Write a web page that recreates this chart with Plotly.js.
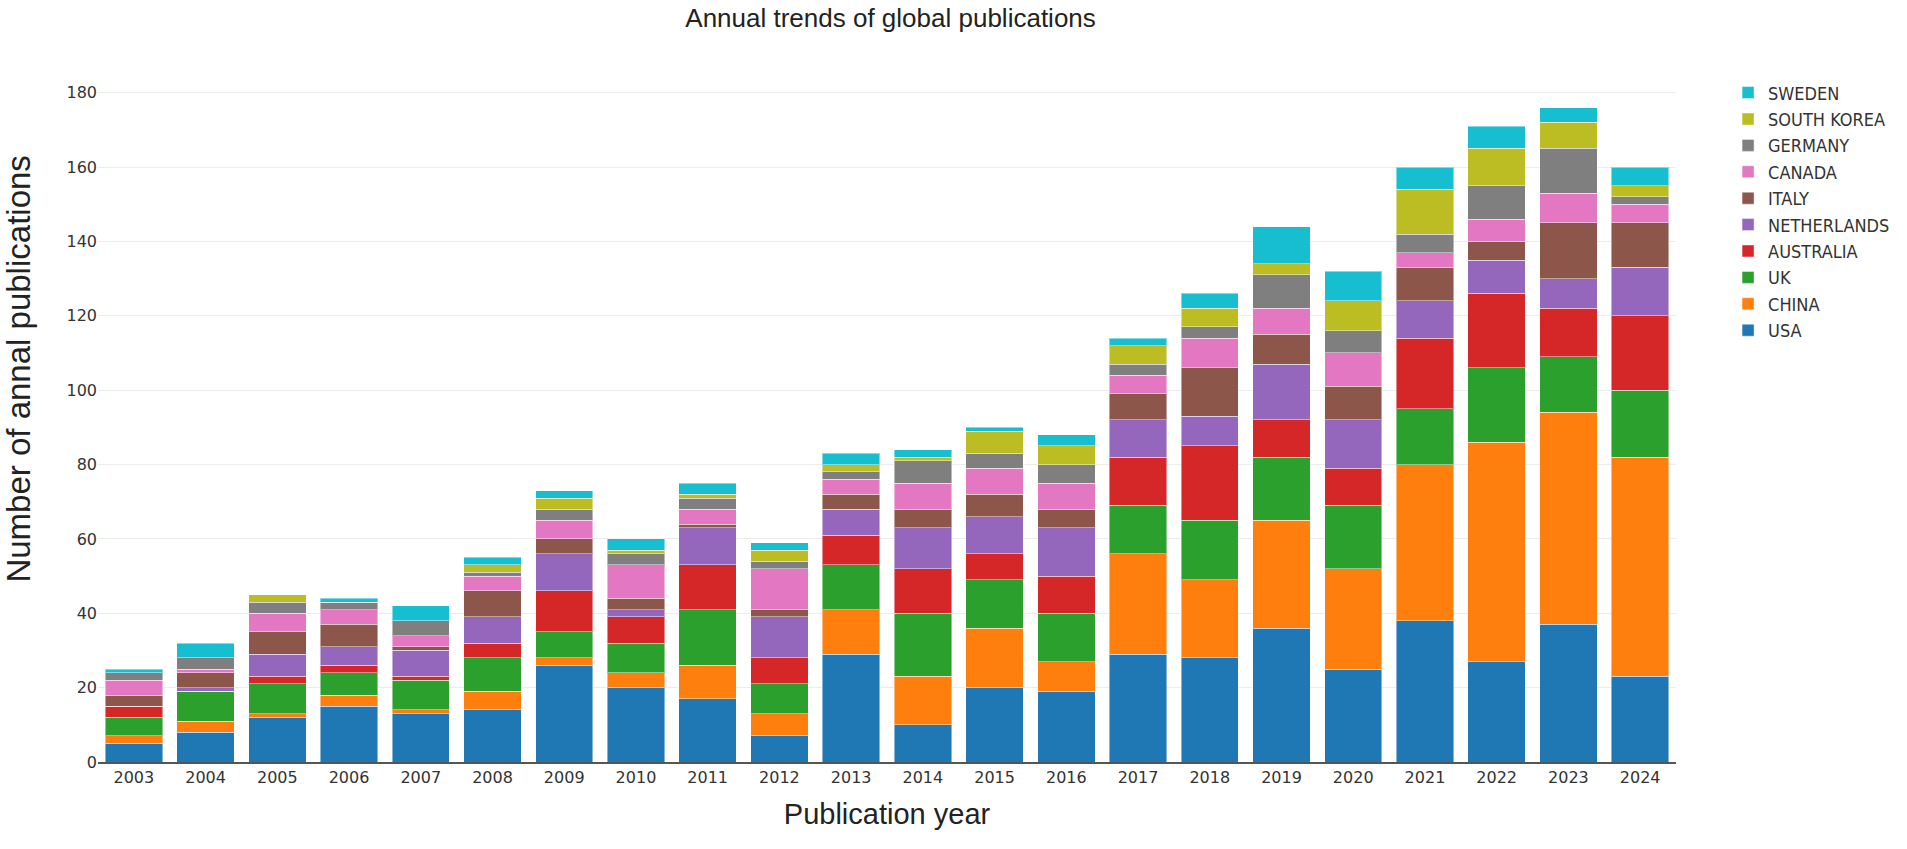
<!DOCTYPE html>
<html>
<head>
<meta charset="utf-8">
<script src="https://cdn.plot.ly/plotly-3.0.1.min.js"></script>
<style>
  html, body { margin: 0; padding: 0; background: #fff; }
  #chart { width: 1907px; height: 849px; }
</style>
</head>
<body>
<div id="chart"></div>
<script>
const years = ['2003','2004','2005','2006','2007','2008','2009','2010','2011','2012','2013','2014','2015','2016','2017','2018','2019','2020','2021','2022','2023','2024'];

const usa         = [5, 8, 12, 15, 13, 14, 26, 20, 17, 7, 29, 10, 20, 19, 29, 28, 36, 25, 38, 27, 37, 23];
const china       = [2, 3, 1, 3, 1, 5, 2, 4, 9, 6, 12, 13, 16, 8, 27, 21, 29, 27, 42, 59, 57, 59];
const uk          = [5, 8, 8, 6, 8, 9, 7, 8, 15, 8, 12, 17, 13, 13, 13, 16, 17, 17, 15, 20, 15, 18];
const australia   = [3, 0, 2, 2, 1, 4, 11, 7, 12, 7, 8, 12, 7, 10, 13, 20, 10, 10, 19, 20, 13, 20];
const netherlands = [0, 1, 6, 5, 7, 7, 10, 2, 10, 11, 7, 11, 10, 13, 10, 8, 15, 13, 10, 9, 8, 13];
const italy       = [3, 4, 6, 6, 1, 7, 4, 3, 1, 2, 4, 5, 6, 5, 7, 13, 8, 9, 9, 5, 15, 12];
const canada      = [4, 1, 5, 4, 3, 4, 5, 9, 4, 11, 4, 7, 7, 7, 5, 8, 7, 9, 4, 6, 8, 5];
const germany     = [2, 3, 3, 2, 4, 1, 3, 3, 3, 2, 2, 6, 4, 5, 3, 3, 9, 6, 5, 9, 12, 2];
const southKorea  = [0, 0, 2, 0, 0, 2, 3, 1, 1, 3, 2, 1, 6, 5, 5, 5, 3, 8, 12, 10, 7, 3];
const sweden      = [1, 4, 0, 1, 4, 2, 2, 3, 3, 2, 3, 2, 1, 3, 2, 4, 10, 8, 6, 6, 4, 5];

const seriesNames  = ['USA','CHINA','UK','AUSTRALIA','NETHERLANDS','ITALY','CANADA','GERMANY','SOUTH KOREA','SWEDEN'];
const seriesValues = [usa, china, uk, australia, netherlands, italy, canada, germany, southKorea, sweden];
const seriesColors = ['#1f77b4','#ff7f0e','#2ca02c','#d62728','#9467bd','#8c564b','#e377c2','#7f7f7f','#bcbd22','#17becf'];

const tickFont = 'DejaVu Sans, Verdana, sans-serif';
const legendFont = 'DejaVu Sans Condensed, DejaVu Sans, Verdana, sans-serif';
const narrowFont = 'Liberation Sans Narrow, Arial Narrow, Liberation Sans, sans-serif';

const traces = seriesNames.map((name, i) => ({
  type: 'bar',
  name: name,
  x: years,
  y: seriesValues[i],
  marker: { color: seriesColors[i], line: { color: 'rgba(255,255,255,0.45)', width: 1 } },
  hoverinfo: 'x+y+name'
}));

const layout = {
  width: 1907,
  height: 849,
  barmode: 'stack',
  bargap: 0.2,
  paper_bgcolor: '#ffffff',
  plot_bgcolor: '#ffffff',
  margin: { l: 98, r: 225, t: 73, b: 87 },
  title: {
    text: 'Annual trends of global publications',
    font: { family: narrowFont, size: 26, color: '#222' },
    x: 0.467, xanchor: 'center', y: 0.99, yanchor: 'top'
  },
  xaxis: {
    type: 'category',
    tickfont: { family: tickFont, size: 16, color: '#333' },
    showline: true, linecolor: '#555', linewidth: 1.5,
    showgrid: false,
    title: { text: 'Publication year', font: { family: narrowFont, size: 29, color: '#222' }, standoff: 18 }
  },
  yaxis: {
    range: [0, 185.3],
    tick0: 0, dtick: 20,
    tickfont: { family: tickFont, size: 16, color: '#333' },
    gridcolor: '#ececec', gridwidth: 1,
    zeroline: false
  },
  annotations: [{
    text: 'Number of annal publications',
    textangle: -90,
    xref: 'paper', yref: 'paper',
    x: -0.0505, y: 0.57,
    xanchor: 'center', yanchor: 'middle',
    showarrow: false,
    font: { family: narrowFont, size: 33, color: '#222' }
  }],
  legend: {
    traceorder: 'reversed',
    x: 1.033, xanchor: 'left',
    y: 0.998, yanchor: 'top',
    font: { family: legendFont, size: 18, color: '#333' },
    bgcolor: 'rgba(0,0,0,0)'
  },
  showlegend: true
};

Plotly.newPlot('chart', traces, layout, { displayModeBar: false, responsive: false });
</script>
</body>
</html>
